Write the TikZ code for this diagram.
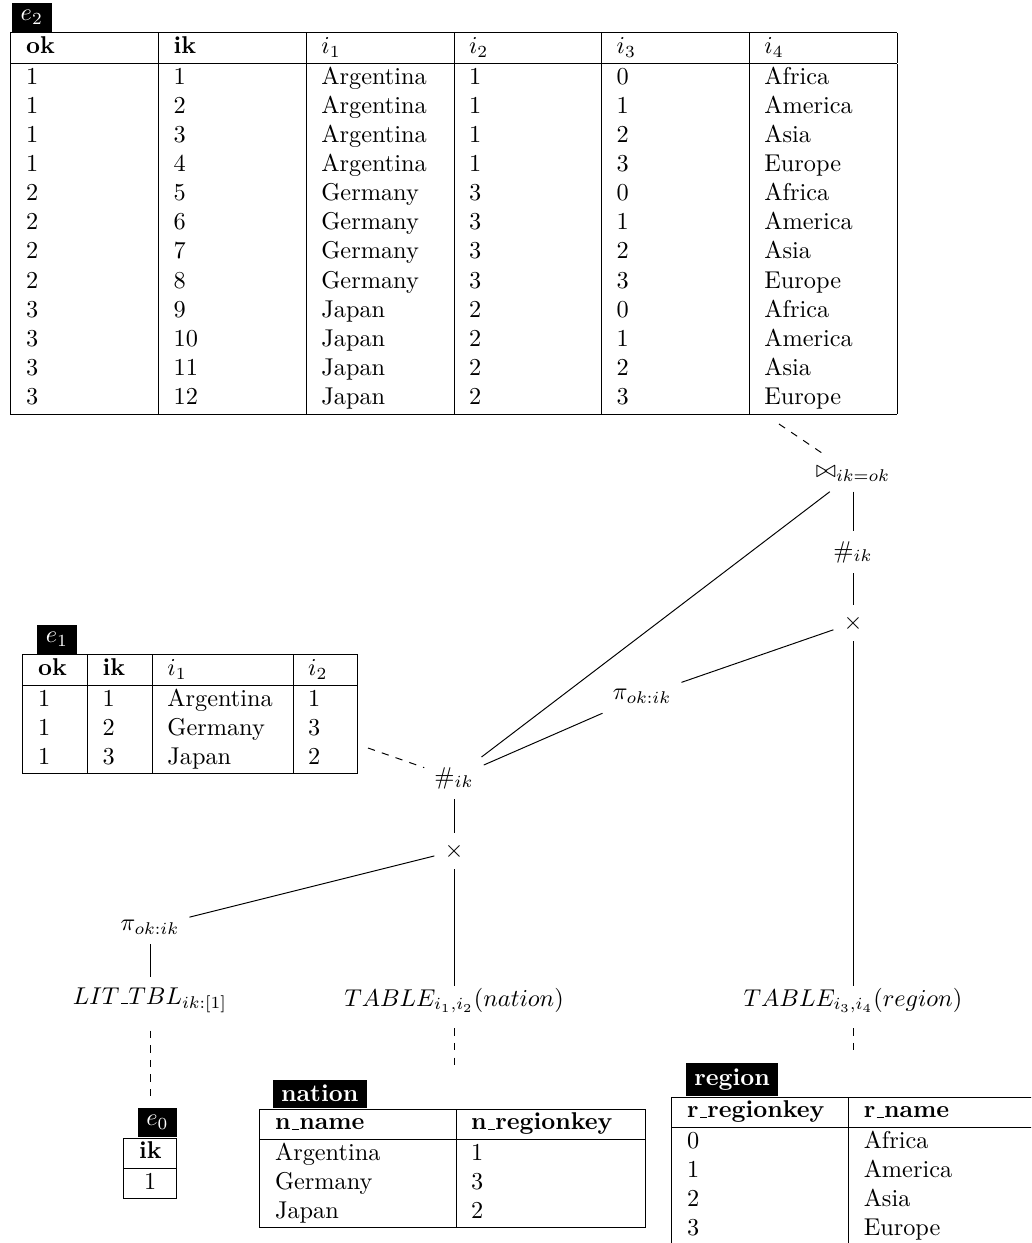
\documentclass[tikz,border=0pt]{standalone}
\usepackage{array}
% short low rule used as the underscore in column and operator names
\newcommand\usc{\leavevmode\kern.06em\vbox{\hrule width.3em}}
\begin{document}
\begin{tikzpicture}[x=0.41152pt,y=-0.41152pt,
  op/.style={inner sep=4pt},
  leaf/.style={op, anchor=base},
  tbl/.style={inner sep=0pt, anchor=north west},
  tag/.style={fill=black, text=white, inner xsep=3.6pt, inner ysep=3pt, anchor=south west},
  nametag/.style={tag, inner xsep=3.4pt, inner ysep=2.3pt},
  link/.style={dashed}]
\clip (0,0) rectangle (1031,1243);

% ---------- intermediate results ----------
\node[tbl] (e2) at (10,32) {\begin{tabular}{|*{6}{p{1.7cm}|}}\hline
\textbf{ok} & \textbf{ik} & $i_1$ & $i_2$ & $i_3$ & $i_4$\\\hline
1 & 1 & Argentina & 1 & 0 & Africa\\
1 & 2 & Argentina & 1 & 1 & America\\
1 & 3 & Argentina & 1 & 2 & Asia\\
1 & 4 & Argentina & 1 & 3 & Europe\\
2 & 5 & Germany & 3 & 0 & Africa\\
2 & 6 & Germany & 3 & 1 & America\\
2 & 7 & Germany & 3 & 2 & Asia\\
2 & 8 & Germany & 3 & 3 & Europe\\
3 & 9 & Japan & 2 & 0 & Africa\\
3 & 10 & Japan & 2 & 1 & America\\
3 & 11 & Japan & 2 & 2 & Asia\\
3 & 12 & Japan & 2 & 3 & Europe\\\hline
\end{tabular}};
\node[tag] (e2tag) at ([xshift=0.6pt]e2.north west) {$e_2$};

\node[tbl] (e1) at (22,654) {\begin{tabular}{|p{0.5cm}|p{0.5cm}|p{1.6cm}|p{0.5cm}|}\hline
\textbf{ok} & \textbf{ik} & $i_1$ & $i_2$\\\hline
1 & 1 & Argentina & 1\\
1 & 2 & Germany & 3\\
1 & 3 & Japan & 2\\\hline
\end{tabular}};
\node[tag] (e1tag) at ([xshift=6pt]e1.north west) {$e_1$};

\node[tbl] (e0) at (123,1137) {\begin{tabular}{|c|}\hline
\textbf{ik}\\\hline
1\\\hline
\end{tabular}};
\node[tag] (e0tag) at ([xshift=5.8pt]e0.north west) {$e_0$};

% ---------- base tables ----------
\node[tbl] (nation) at (259,1108) {\begin{tabular}{|p{2.4cm}|p{2.3cm}|}\hline
\textbf{n\usc name} & \textbf{n\usc regionkey}\\\hline
Argentina & 1\\
Germany & 3\\
Japan & 2\\\hline
\end{tabular}};
\node[nametag] (nationtag) at ([xshift=5.5pt]nation.north west) {\textbf{nation}};

\node[tbl] (region) at (671,1096) {\begin{tabular}{|p{2.12cm}|p{2.4cm}|}\hline
\textbf{r\usc regionkey} & \textbf{r\usc name}\\\hline
0 & Africa\\
1 & America\\
2 & Asia\\
3 & Europe\\\hline
\end{tabular}};
\node[nametag] (regiontag) at ([xshift=6pt]region.north west) {\textbf{region}};

% ---------- operator plan ----------
\node[op] (join) at (853,474) {$\bowtie_{ik=ok}$};
\node[op] (hR)   at (853,552) {$\#_{ik}$};
\node[op] (xR)   at (853,623) {$\times$};
\node[leaf, text height=4pt, text depth=5pt] (tR) at (853,1006) {$TABLE_{i_3,i_4}(region)$};
\node[op] (piM)  at (642,696) {$\pi_{ok:ik}$};
\node[op] (hL)   at (454,778) {$\#_{ik}$};
\node[op] (xL)   at (454,851) {$\times$};
\node[leaf, text height=4pt, text depth=5pt] (tN) at (454,1006) {$TABLE_{i_1,i_2}(nation)$};
\node[op] (piL)  at (150,927) {$\pi_{ok:ik}$};
\node[leaf, text height=6.9pt, text depth=6.8pt] (lit) at (150,1004) {$LIT\mathord{\hbox{\usc}}TBL_{ik:[1]}$};

\draw (join) -- (hR);
\draw (hR) -- (xR);
\draw (xR) -- (piM);
\draw (xR) -- (tR);
\draw (join) -- (hL);
\draw (piM) -- (hL);
\draw (hL) -- (xL);
\draw (xL) -- (piL);
\draw (xL) -- (tN);
\draw (piL) -- (lit);

% ---------- links to materialised results ----------
\coordinate (e2s)  at (779,424);
\coordinate (e1s)  at (368,748);
\coordinate (e0n)  at (150,1100);
\coordinate (natn) at (454,1066);
\coordinate (regn) at (853,1051);
\draw[link] (e2s) -- (join);
\draw[link] (e1s) -- (hL);
\draw[link] (lit) -- (e0n);
\draw[link] (tN) -- (natn);
\draw[link] (tR) -- (regn);
\end{tikzpicture}
\end{document}
